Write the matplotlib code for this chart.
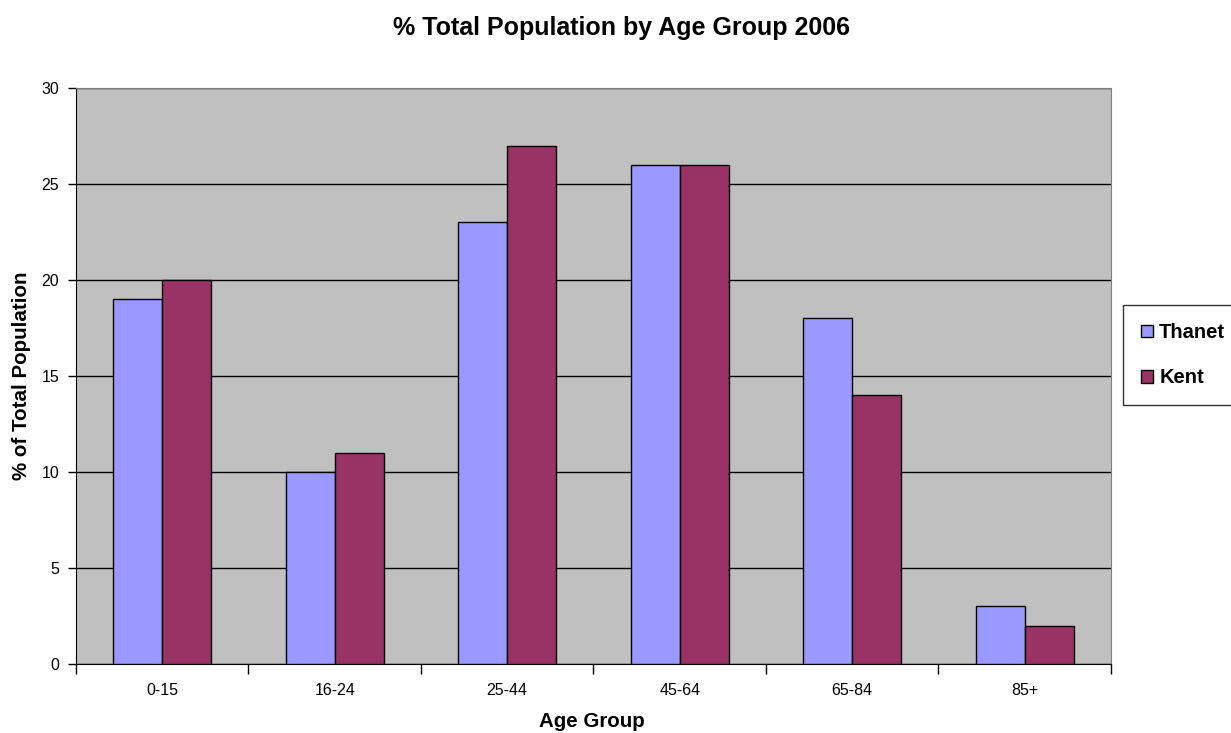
"""Bar chart: share of total population by age group, Thanet vs Kent, 2006."""

import matplotlib
matplotlib.use("Agg")
import matplotlib.pyplot as plt
import numpy as np

age_groups = ["0-15", "16-24", "25-44", "45-64", "65-84", "85+"]
thanet = [19, 10, 23, 26, 18, 3]
kent = [20, 11, 27, 26, 14, 2]

plt.rcParams["font.family"] = ["Liberation Sans", "DejaVu Sans"]


def main() -> None:
    fig = plt.figure(figsize=(12.31, 7.33), dpi=100, facecolor="white")
    ax = fig.add_axes([0.0617, 0.0941, 0.8408, 0.7859])
    ax.set_facecolor("#c0c0c0")

    x = np.arange(len(age_groups))
    w = 0.285
    ax.bar(x - w / 2, thanet, width=w, color="#9999ff", edgecolor="black",
           linewidth=1.0, label="Thanet", zorder=3)
    ax.bar(x + w / 2, kent, width=w, color="#993366", edgecolor="black",
           linewidth=1.0, label="Kent", zorder=3)

    ax.set_xlim(-0.5, len(age_groups) - 0.5)
    ax.set_ylim(0, 30)
    ax.set_yticks(range(0, 31, 5))
    ax.yaxis.grid(True, color="black", linewidth=1.0, zorder=1)
    ax.set_axisbelow(True)

    # category labels sit between boundary tick marks
    ax.set_xticks(np.arange(len(age_groups) + 1) - 0.5)
    ax.set_xticklabels([])
    ax.set_xticks(x, minor=True)
    ax.set_xticklabels(age_groups, minor=True)
    ax.tick_params(axis="x", which="minor", length=0, pad=14, labelsize=11.5)
    ax.tick_params(axis="x", which="major", length=7, width=1, direction="out")
    ax.tick_params(axis="y", length=6, width=1, direction="out", labelsize=11.5,
                   pad=6)

    for side in ("top", "right"):
        ax.spines[side].set_color("#808080")
    for side in ("left", "bottom"):
        ax.spines[side].set_color("black")

    ax.set_xlabel("Age Group", fontsize=14.8, fontweight="bold")
    ax.xaxis.set_label_coords(0.4986, -0.1)
    ax.xaxis.label.set_verticalalignment("center")
    ax.set_ylabel("% of Total Population", fontsize=14.8, fontweight="bold")
    ax.yaxis.set_label_coords(-0.053, 0.5)
    ax.yaxis.label.set_verticalalignment("center")

    fig.text(0.505, 0.962, "% Total Population by Age Group 2006",
             fontsize=18, fontweight="bold", ha="center", va="center")

    leg = ax.legend(loc="upper left", bbox_to_anchor=(1.0116, 0.6233),
                    frameon=True, fancybox=False,
                    prop={"weight": "bold", "size": 14.5},
                    handlelength=0.6, handleheight=0.6, handletextpad=0.3,
                    labelspacing=1.3, borderpad=0.9, borderaxespad=0)
    leg.get_frame().set_edgecolor("black")
    leg.get_frame().set_linewidth(1.0)

    fig.savefig("out.png", dpi=100, facecolor="white")
    plt.close(fig)


if __name__ == "__main__":
    main()
